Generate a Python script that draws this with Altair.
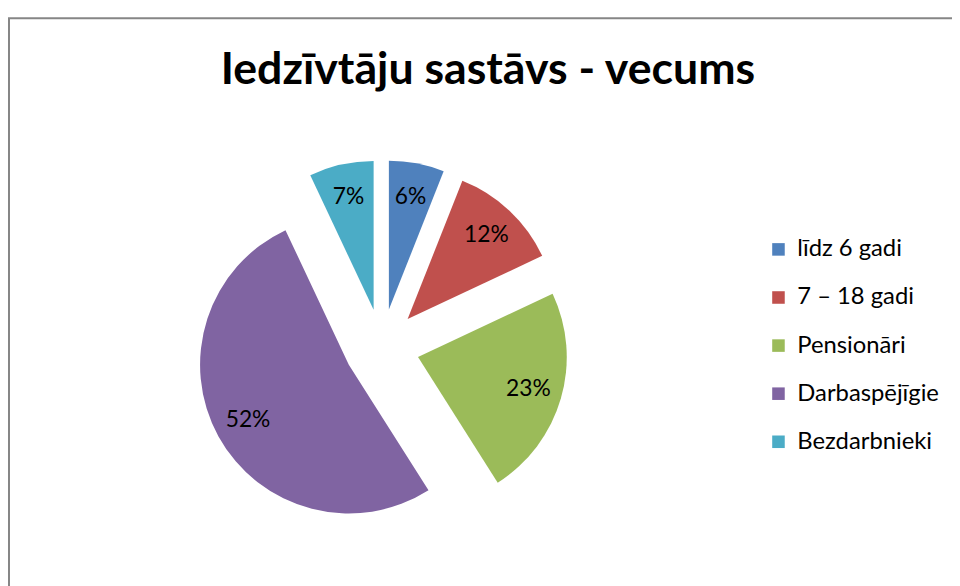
import altair as alt
import pandas as pd

categories = ["līdz 6 gadi", "7 – 18 gadi", "Pensionāri", "Darbaspējīgie", "Bezdarbnieki"]
values = [6, 12, 23, 52, 7]
colors = ["#4F81BD", "#C0504D", "#9BBB59", "#8064A2", "#4BACC6"]
title_text = "Iedzīvtāju sastāvs - vecums"

FONT = "Lato"
CX, CY, R, EXPLODE, LABEL_R = 377, 339, 150, 38, 116

df = pd.DataFrame({"cat": categories, "value": values, "order": list(range(len(values)))})

base = alt.Chart(df).transform_window(
    cum="sum(value)", sort=[alt.SortField("order")], frame=[None, 0]
).transform_joinaggregate(
    total="sum(value)"
).transform_calculate(
    t0="2*PI*(datum.cum - datum.value)/datum.total",
    t1="2*PI*datum.cum/datum.total",
).transform_calculate(
    mid="(datum.t0 + datum.t1)/2"
).transform_calculate(
    cx=f"{CX} + {EXPLODE}*sin(datum.mid)",
    cy=f"{CY} - {EXPLODE}*cos(datum.mid)",
).transform_calculate(
    lx=f"datum.cx + {LABEL_R}*sin(datum.mid)",
    ly=f"datum.cy - {LABEL_R}*cos(datum.mid)",
    label="format(datum.value/datum.total, '.0%')",
)

arcs = base.mark_arc(outerRadius=R).encode(
    x=alt.X("cx:Q", scale=None, axis=None),
    y=alt.Y("cy:Q", scale=None, axis=None),
    theta=alt.Theta("t0:Q", scale=None),
    theta2="t1:Q",
    color=alt.Color(
        "cat:N",
        sort=categories,
        scale=alt.Scale(domain=categories, range=colors),
        legend=alt.Legend(
            title=None,
            orient="none",
            legendX=765,
            legendY=229,
            symbolType="square",
            symbolSize=160,
            symbolStrokeWidth=0,
            labelFontSize=24,
            labelFont=FONT,
            labelColor="#000000",
            labelOffset=7,
            rowPadding=24.5,
        ),
    ),
)

labels = base.mark_text(fontSize=23, font=FONT, color="#000000", align="center", baseline="middle").encode(
    x=alt.X("lx:Q", scale=None, axis=None),
    y=alt.Y("ly:Q", scale=None, axis=None),
    text="label:N",
)

title = alt.Chart(pd.DataFrame({"t": [title_text]})).mark_text(
    fontSize=45, font=FONT, fontWeight="bold", color="#000000", align="center", baseline="alphabetic"
).encode(x=alt.value(484), y=alt.value(74), text="t:N")

border = alt.Chart(pd.DataFrame({"t": [title_text]})).mark_rect(
    fill=None, stroke="#868686", strokeWidth=2
).encode(x=alt.value(1), x2=alt.value(1000), y=alt.value(8), y2=alt.value(700))

chart = alt.layer(border, arcs, labels, title).properties(
    width=952, height=578, padding=0, autosize=alt.AutoSizeParams(type="none")
).configure_view(stroke=None)

chart.save("out.html", embed_options={"renderer": "svg", "actions": False})
